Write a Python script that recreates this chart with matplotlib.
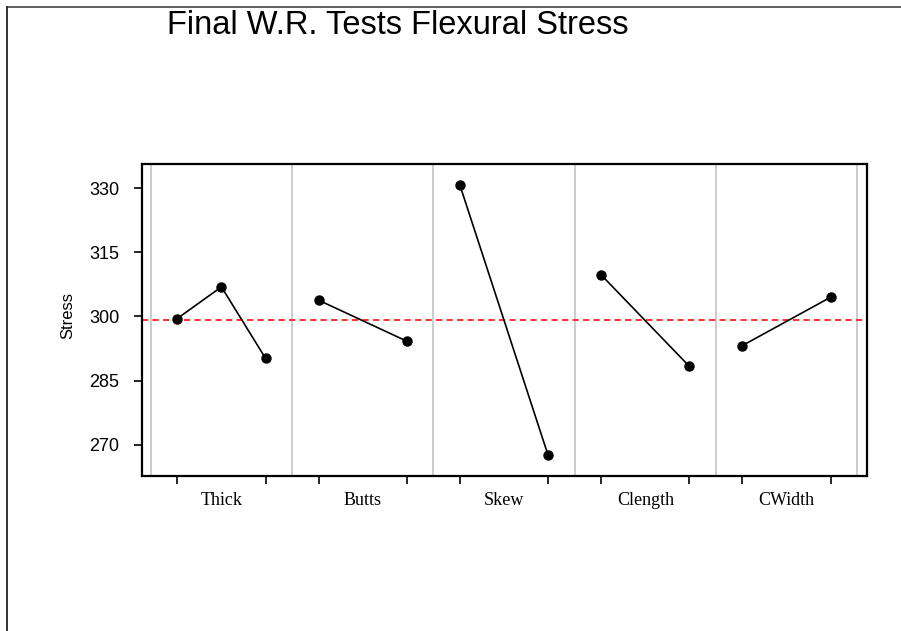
import numpy as np
import matplotlib
matplotlib.use('Agg')
import matplotlib.pyplot as plt
from matplotlib.lines import Line2D

# factor means
factors = ['Thick', 'Butts', 'Skew', 'Clength', 'CWidth']
thick = [299.5, 306.9, 290.2]
butts = [303.8, 294.2]
skew = [330.7, 267.5]
clength = [309.7, 288.3]
cwidth = [293.2, 304.5]
grand_mean = 299.1
yticks = [270, 285, 300, 315, 330]

means = [thick, butts, skew, clength, cwidth]

plt.rcParams['font.family'] = 'Liberation Sans'

fig = plt.figure(figsize=(9.01, 6.31), dpi=100)
ax = fig.add_axes([0.1573, 0.2449, 0.8053, 0.4951])

# level positions inside each panel
level_pos = {2: [0.1875, 0.8125], 3: [0.1875, 0.5, 0.8125]}

minor_x = []
for i, vals in enumerate(means):
    xs = [i + p for p in level_pos[len(vals)]]
    minor_x += xs
    ax.plot(xs, vals, c='k', lw=1.2, marker='o', ms=6.5, zorder=3)

for i in range(len(factors) + 1):
    ax.axvline(i, c='#c4c4c4', lw=1.2, zorder=1)

ax.axhline(grand_mean, c='#ff3030', lw=1.4, dashes=(3.2, 2.2), zorder=2)

ax.set_xlim(-0.064, 5.071)
ax.set_ylim(262.6, 335.6)

ax.set_yticks(yticks)
ax.set_yticklabels([str(v) for v in yticks], fontsize=13)
ax.tick_params(axis='y', direction='out', length=6, width=1.2, pad=10)

ax.set_xticks([i + 0.5 for i in range(len(factors))])
ax.set_xticklabels(factors, family='Liberation Serif', fontsize=13)
ax.set_xticks(minor_x, minor=True)
ax.tick_params(axis='x', which='major', length=0, pad=11)
ax.tick_params(axis='x', which='minor', direction='out', length=6, width=1.2)

for sp in ax.spines.values():
    sp.set_linewidth(1.6)

ax.set_ylabel('Stress', fontsize=12)
ax.yaxis.set_label_coords(-0.092, 0.515)

fig.text(0.4417, 1 - 34 / 631, 'Final W.R. Tests Flexural Stress',
         fontsize=23.5, ha='center', va='baseline')

# page frame on the left and top
fig.add_artist(Line2D([7 / 901, 7 / 901], [0, 1 - 7 / 631], c='#333333', lw=1.4))
fig.add_artist(Line2D([7 / 901, 1], [1 - 7 / 631, 1 - 7 / 631], c='#333333', lw=1.1))

fig.savefig('out.png', dpi=100)
